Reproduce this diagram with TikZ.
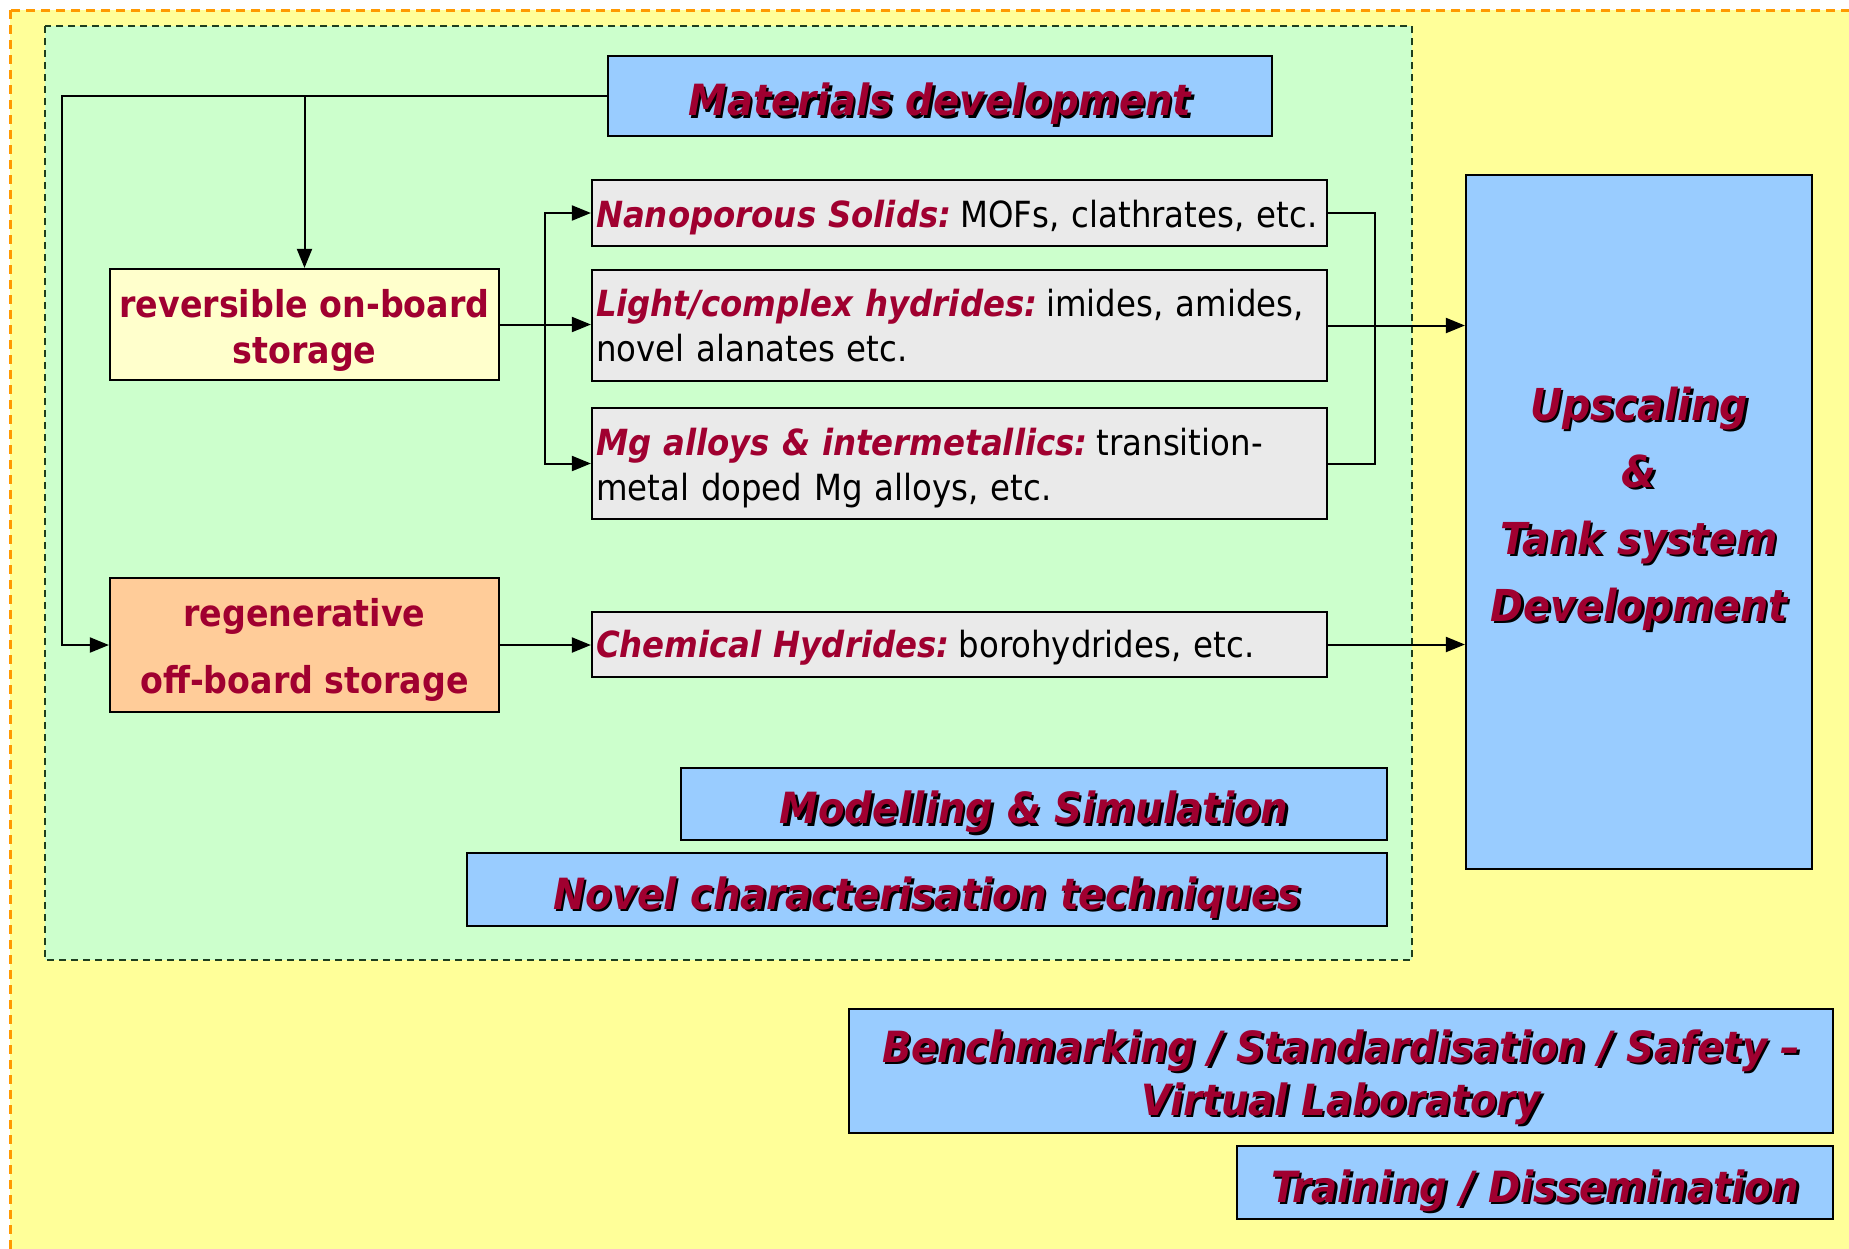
\documentclass[tikz,border=0pt]{standalone}
\usepackage{fontspec}
\setmainfont{DejaVu Sans Condensed}
\usetikzlibrary{arrows.meta}
\definecolor{bgyellow}{HTML}{FFFF99}
\definecolor{bggreen}{HTML}{CCFFCC}
\definecolor{boxblue}{HTML}{99CCFF}
\definecolor{boxgray}{HTML}{EAEAEA}
\definecolor{boxcream}{HTML}{FFFFCC}
\definecolor{boxorange}{HTML}{FFCC99}
\definecolor{hred}{HTML}{A00030}
\definecolor{borderorange}{HTML}{FF9900}
\definecolor{darkgreen}{HTML}{1E3F1E}
\newcommand\shd[1]{{\leavevmode\rlap{\kern2.5pt\raisebox{-2.5pt}{\color{black}#1}}\textcolor{hred}{#1}}}
\newcommand\rb[1]{\textcolor{hred}{\bfseries\itshape #1}\hspace{9pt}}
\begin{document}
\begin{tikzpicture}[x=1pt,y=-1pt,
  box/.style={draw=black, line width=2.2pt, inner sep=4pt},
  bluebox/.style={box, fill=boxblue, font=\fontsize{43}{53}\selectfont\bfseries\itshape, align=center},
  oneline/.style={text height=45pt, text depth=6pt},
  graybox/.style={box, fill=boxgray, font=\fontsize{36}{45}\selectfont, text width=727pt, align=left},
  storebox/.style={box, font=\fontsize{37}{46}\selectfont\bfseries, text=hred, align=center},
  conn/.style={line width=2pt},
  arr/.style={conn, -{Triangle[length=19pt,width=15pt]}},
]
\path[use as bounding box] (0,0) rectangle (1849,1248);
\fill[white] (0,0) rectangle (1849,1248);
\begin{scope}
\clip (0,0) rectangle (1849,1248);
\draw[fill=bgyellow, draw=borderorange, line width=3pt, dash pattern=on 9pt off 6pt] (10,10) rectangle (1880,1280);
\end{scope}
\draw[fill=bggreen, draw=darkgreen, line width=1.8pt, dash pattern=on 7pt off 5pt] (45,26) rectangle (1412,960);

% boxes
\node[bluebox, oneline, minimum width=664pt, minimum height=80pt] (mat) at (940,96) {\shd{Materials development}};
\node[storebox, fill=boxcream, minimum width=389pt, minimum height=111pt] (rev) at (304.5,324.5) {\rule{0pt}{40pt}reversible on-board\\storage};
\node[storebox, fill=boxorange, minimum width=389pt, minimum height=134pt, font=\fontsize{37}{67}\selectfont\bfseries] (regen) at (304.5,645) {\rule{0pt}{38pt}regenerative\\off-board storage};
\node[graybox, minimum width=735pt, minimum height=66pt] (nano) at (959.5,213) {\mbox{\rule{0pt}{36pt}\rb{Nanoporous Solids:}MOFs, clathrates, etc.}};
\node[graybox, minimum width=735pt, minimum height=111pt] (light) at (959.5,325.5) {\mbox{\rb{Light/complex hydrides:}imides, amides,}\\novel alanates etc.};
\node[graybox, minimum width=735pt, minimum height=111pt] (mg) at (959.5,463.5) {\mbox{\rule{0pt}{37pt}\rb{Mg alloys \& intermetallics:}transition-}\\metal doped Mg alloys, etc.};
\node[graybox, minimum width=735pt, minimum height=65pt] (chem) at (959.5,644.5) {\mbox{\rule{0pt}{34pt}\rb{Chemical Hydrides:}borohydrides, etc.}};
\node[bluebox, oneline, minimum width=706pt, minimum height=72pt] (model) at (1034,804) {\shd{Modelling \& Simulation}};
\node[bluebox, oneline, minimum width=920pt, minimum height=73pt] (novel) at (927,889.5) {\shd{Novel characterisation techniques}};
\node[box, fill=boxblue, minimum width=346pt, minimum height=694pt] (ups) at (1639,522) {};
\node[inner sep=0pt, font=\fontsize{44}{67}\selectfont\bfseries\itshape, align=center] (upstxt) at (1639,510) {\shd{Upscaling}\\\shd{\&}\\\shd{Tank system}\\\shd{Development}};
\node[bluebox, minimum width=984pt, minimum height=124pt] (bench) at (1341,1071) {\rule{0pt}{47pt}\shd{Benchmarking / Standardisation / Safety –}\\\shd{Virtual Laboratory}};
\node[bluebox, oneline, minimum width=596pt, minimum height=73pt] (train) at (1535,1182.5) {\shd{Training / Dissemination}};

% connectors
\coordinate (lc) at (62,96);
\coordinate (bx) at (545,0);
\coordinate (cx) at (1375,0);
\draw[arr] (mat.west) -- (lc) |- (regen.west);
\draw[arr] (rev.north |- mat.west) -- (rev.north);
\draw[arr] (rev.east) -- (rev.east -| light.west);
\draw[arr] (bx |- rev.east) |- (nano.west);
\draw[arr] (bx |- rev.east) |- (mg.west);
\draw[arr] (regen.east) -- (regen.east -| chem.west);
\draw[conn] (nano.east) -| (cx |- mg.east) -- (mg.east);
\draw[arr] (light.east) -- (light.east -| ups.west);
\draw[arr] (chem.east) -- (chem.east -| ups.west);
\end{tikzpicture}
\end{document}
